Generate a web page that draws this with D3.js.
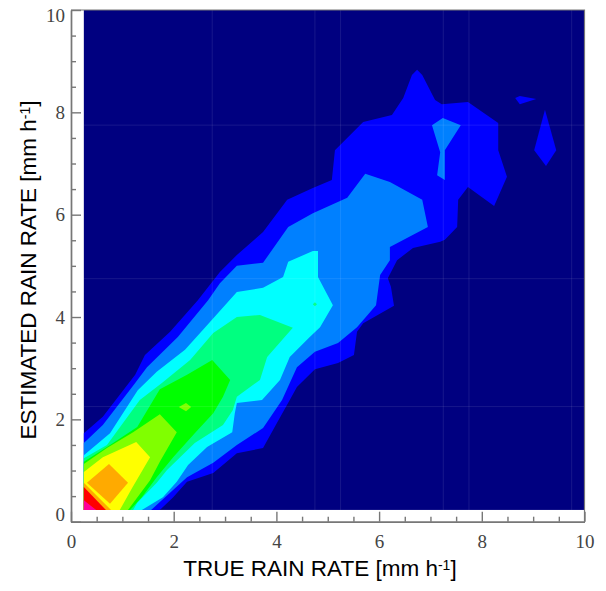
<!DOCTYPE html>
<html>
<head>
<meta charset="utf-8">
<script src="https://cdn.jsdelivr.net/npm/d3@7"></script>
<style>
  html, body { margin: 0; padding: 0; background: #fff; }
  svg { display: block; }
</style>
</head>
<body>
<svg id="chart" width="606" height="591"></svg>
<script>
// contour outlines, [true rain rate, estimated rain rate]
var blueMain = [[.25,.23],[.25,1.73],[.62,2.05],[1.25,2.87],[1.44,3.26],[1.93,3.71],[2.47,4.33],[2.90,4.88],[3.23,5.21],[3.74,5.66],[4.21,6.29],[4.71,6.52],[5.08,6.68],[5.14,7.26],[5.69,7.81],[6.25,7.95],[6.47,8.28],[6.64,8.73],[6.74,8.83],[6.84,8.73],[7.09,8.24],[7.22,8.16],[7.73,8.20],[8.32,7.79],[8.32,7.26],[8.49,6.74],[8.24,6.17],[7.73,6.54],[7.54,6.29],[7.52,5.76],[7.28,5.51],[7.19,5.47],[6.66,5.35],[6.35,5.11],[6.17,4.76],[6.23,4.59],[6.29,4.22],[5.69,3.88],[5.57,3.71],[5.51,3.26],[5.20,3.10],[4.75,2.98],[4.40,2.63],[4.26,2.38],[4.01,1.93],[3.74,1.44],[3.23,1.34],[2.77,.95],[2.26,.78],[1.99,.48],[1.73,.23]];
var blueIslandA = [[8.65,8.28],[8.74,8.32],[9.06,8.26],[8.74,8.16]];
var blueIslandB = [[9.23,8.05],[9.45,7.26],[9.25,6.95],[9.02,7.26]];
var azureMain = [[.25,.23],[.25,1.54],[.62,1.89],[1.25,2.71],[1.48,3.02],[2.08,3.61],[2.67,4.33],[2.90,4.66],[3.23,5.00],[3.74,5.06],[4.23,5.76],[4.71,6.03],[5.38,6.33],[5.73,6.80],[6.21,6.64],[6.84,6.29],[6.95,5.76],[6.21,5.37],[6.21,5.11],[6.02,4.82],[5.94,4.23],[5.57,3.80],[5.20,3.49],[4.75,3.32],[4.40,3.02],[4.11,2.38],[3.74,1.83],[3.23,1.50],[2.77,1.15],[2.26,.87],[1.56,.23]];
var azureIsland = [[7.03,7.75],[7.24,7.89],[7.59,7.75],[7.28,7.26],[7.28,6.68],[7.13,6.77],[7.19,7.22]];
var cyanMain = [[.25,.23],[.25,1.30],[.76,1.73],[1.30,2.57],[1.67,2.93],[2.22,3.36],[2.65,3.84],[3.23,4.49],[3.74,4.57],[4.13,4.78],[4.23,5.08],[4.71,5.29],[4.81,5.29],[4.81,4.78],[5.10,4.23],[4.85,3.80],[4.65,3.61],[4.26,3.22],[4.07,2.77],[3.72,2.38],[3.23,2.32],[3.19,2.12],[3.14,1.75],[2.65,1.46],[2.28,1.11],[2.06,.78],[1.79,.48],[1.38,.23]];
var mintMain = [[.25,.23],[.25,1.24],[.70,1.50],[1.34,2.38],[1.77,2.71],[2.32,3.16],[2.77,3.69],[3.23,4.00],[3.68,4.04],[4.32,3.79],[3.82,3.22],[3.68,2.77],[3.23,2.44],[3.15,2.18],[2.96,1.89],[2.41,1.54],[1.87,1.01],[1.67,.76],[1.29,.37],[1.21,.23]];
var mintDot = [[4.71,4.25],[4.75,4.29],[4.79,4.25],[4.75,4.21]];
var greenMain = [[.25,.23],[.25,1.17],[.76,1.50],[1.29,1.85],[1.73,2.59],[2.26,2.87],[2.75,3.16],[3.10,2.77],[2.96,2.44],[2.77,2.12],[2.41,1.73],[1.99,1.26],[1.67,.87],[1.38,.48],[1.15,.23]];
var limeMain = [[.25,.23],[.25,1.13],[.70,1.44],[1.21,1.75],[1.73,2.10],[2.06,1.75],[1.73,1.17],[1.54,.81],[1.11,.23]];
var limeDot = [[2.10,2.24],[2.24,2.32],[2.34,2.24],[2.24,2.16]];
var yellowMain = [[.25,.23],[.25,.97],[.62,1.26],[1.27,1.56],[1.54,1.26],[1.19,.66],[.95,.23]];
var orangeDiamond = [[.31,.76],[.74,1.13],[1.11,.76],[.76,.35]];
var orangeCorner = [[.25,.23],[.25,.76],[.78,.23]];
var redCorner = [[.25,.23],[.25,.68],[.68,.23]];
var pinkCorner = [[.25,.23],[.25,.42],[.49,.23]];

var contourFills = ['#0000ff','#0000ff','#0000ff','#0080ff','#0080ff','#00ffff','#00ff80','#00ff80','#00ff00','#80ff00','#80ff00','#ffff00','#ffaa00','#ffaa00','#ff0000','#ff0099'];
var contourShapes = [blueMain,blueIslandA,blueIslandB,azureMain,azureIsland,cyanMain,mintMain,mintDot,greenMain,limeMain,limeDot,yellowMain,orangeDiamond,orangeCorner,redCorner,pinkCorner];
// mint and lime dots sit on top of the bands they belong in
var drawOrder = [0,1,2,3,4,5,7,6,8,9,11,10,12,13,14,15];

var majorTicks = [0,2,4,6,8,10];
var minorTicks = [.5,1,1.5,2.5,3,3.5,4.5,5,5.5,6.5,7,7.5,8.5,9,9.5];
var faintX = [2.75,4.75,5.25,7.25,7.75,9.75];
var faintY = [2.25,4.75,7.75];
var plotStart = [.25,.23];

var xScale = d3.scaleLinear().domain([0,10]).range([71,584.5]);
var yScale = d3.scaleLinear().domain([0,10]).range([521.7,10]);

var svg = d3.select('#chart');

// navy background
svg.append('rect')
  .attr('x', xScale(plotStart[0]))
  .attr('y', yScale(10))
  .attr('width', xScale(10) - xScale(plotStart[0]))
  .attr('height', yScale(plotStart[1]) - yScale(10))
  .style('fill', '#000080');

var line = d3.line()
  .x(d => xScale(d[0]))
  .y(d => yScale(d[1]))
  .curve(d3.curveLinearClosed);

svg.append('g').selectAll('path')
  .data(drawOrder)
  .enter()
  .append('path')
    .attr('d', i => line(contourShapes[i]))
    .style('fill', i => contourFills[i]);

// the faint lines left in the scan
svg.append('g').selectAll('line')
  .data(faintX)
  .enter()
  .append('line')
    .attr('x1', d => xScale(d)).attr('x2', d => xScale(d))
    .attr('y1', yScale(10)).attr('y2', yScale(plotStart[1]))
    .style('stroke', '#fff').style('stroke-opacity', 0.09);

svg.append('g').selectAll('line')
  .data(faintY)
  .enter()
  .append('line')
    .attr('y1', d => yScale(d)).attr('y2', d => yScale(d))
    .attr('x1', xScale(plotStart[0])).attr('x2', xScale(10))
    .style('stroke', '#fff').style('stroke-opacity', 0.09);

// top and right frame
svg.append('path')
  .attr('d', 'M' + xScale(0) + ',' + yScale(10) + 'H' + xScale(10) + 'V' + yScale(0))
  .style('fill', 'none')
  .style('stroke', '#777')
  .style('stroke-width', 1.2);

//add the x Axis
var xMinor = svg.append('g')
  .attr('transform', 'translate(0,' + yScale(0) + ')')
  .call(d3.axisTop(xScale).tickValues(minorTicks).tickSize(5).tickFormat('').tickSizeOuter(0));
var xMajor = svg.append('g')
  .attr('transform', 'translate(0,' + yScale(0) + ')')
  .call(d3.axisTop(xScale).tickValues(majorTicks).tickSize(10).tickSizeOuter(0));
xMajor.selectAll('text')
  .attr('y', 26)
  .attr('dy', 0)
  .style('text-anchor', 'middle');

//add the y Axis
var yMinor = svg.append('g')
  .attr('transform', 'translate(' + xScale(0) + ',0)')
  .call(d3.axisRight(yScale).tickValues(minorTicks).tickSize(5).tickFormat('').tickSizeOuter(0));
var yMajor = svg.append('g')
  .attr('transform', 'translate(' + xScale(0) + ',0)')
  .call(d3.axisRight(yScale).tickValues(majorTicks).tickSize(10).tickSizeOuter(0));
yMajor.selectAll('text')
  .attr('x', -6)
  .attr('y', d => d == 0 ? -7 : d == 10 ? 5 : 0)
  .attr('dy', '.32em')
  .style('text-anchor', 'end');

svg.selectAll('.domain, .tick line')
  .style('stroke', '#777')
  .style('stroke-width', 1.4);

svg.selectAll('.tick text')
  .style('font-family', '"Liberation Serif", serif')
  .style('font-size', '19px')
  .style('fill', '#444');

// titles
function addTitle(text) {
  text.style('font-family', '"Liberation Sans", sans-serif')
    .style('font-size', '22.5px')
    .style('fill', '#000')
    .style('text-anchor', 'middle');
  text.append('tspan').text(text.attr('data-label') + ' [mm h');
  text.append('tspan').attr('dy', '-0.4em').style('font-size', '14px').text('-1');
  text.append('tspan').attr('dy', '0.25em').text(']');
}

svg.append('text')
  .attr('data-label', 'TRUE RAIN RATE')
  .attr('x', 320)
  .attr('y', 576)
  .call(addTitle);

svg.append('text')
  .attr('data-label', 'ESTIMATED RAIN RATE')
  .attr('transform', 'translate(36,270) rotate(-90)')
  .call(addTitle);
</script>
</body>
</html>
